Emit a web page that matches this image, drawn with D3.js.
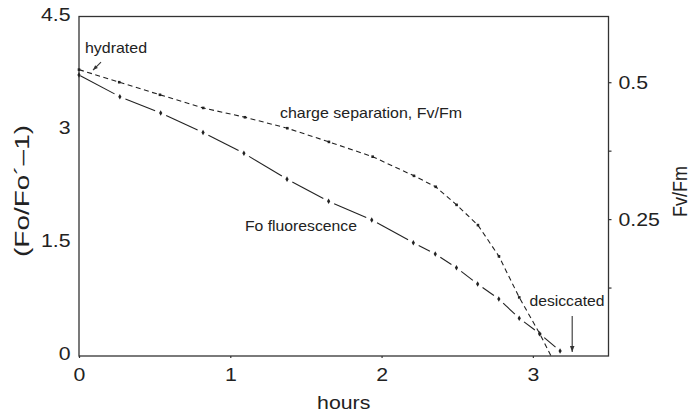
<!DOCTYPE html>
<html>
<head>
<meta charset="utf-8">
<script src="https://cdn.jsdelivr.net/npm/d3@7"></script>
<style>
  body { margin: 0; background: #fff; }
  svg { display: block; }
  text { font-family: "Liberation Sans", Arial, Helvetica, sans-serif; fill: #222; }
</style>
</head>
<body>
<svg id="chart" width="691" height="414"></svg>
<script>
// Sampling times (hours) during drying
const hours = [0, 0.27, 0.54, 0.82, 1.09, 1.375, 1.65, 1.935, 2.21, 2.355, 2.495, 2.635, 2.775, 2.91, 3.045, 3.18];
// Fo fluorescence, expressed as (Fo/Fo' - 1)
const foValues = [3.725, 3.437, 3.222, 2.963, 2.687, 2.344, 2.051, 1.803, 1.502, 1.352, 1.170, 0.954, 0.756, 0.500, 0.296, 0.066];
// Charge separation, Fv/Fm (last entry is where the curve reaches zero)
const fvHours = [0, 0.266, 0.535, 0.821, 1.097, 1.377, 1.652, 1.941, 2.214, 2.358, 2.496, 2.637, 2.776, 2.91, 3.047, 3.12];
const fvValues = [0.523, 0.500, 0.477, 0.453, 0.436, 0.416, 0.391, 0.364, 0.329, 0.309, 0.276, 0.239, 0.182, 0.107, 0.040, 0];

const xTicks = [0, 1, 2, 3];
const yTicks = [0, 1.5, 3, 4.5];
const yTickLabels = ["0", "1.5", "3", "4.5"];
const fvTicks = [0.125, 0.25, 0.375, 0.5];
const fvTickLabels = ["", "0.25", "", "0.5"];

const svg = d3.select("#chart");
const ink = "#222";
const frame = { left: 79, right: 608.5, top: 16.5, bottom: 356 };

const x = d3.scaleLinear().domain([0, 3.5]).range([frame.left, frame.right]);
const y = d3.scaleLinear().domain([0, 4.5]).range([frame.bottom, frame.top]);
const yFv = d3.scaleLinear().domain([0, 0.62]).range([frame.bottom, frame.top]);

// horizontally widen text to the figure's proportions
function widen(sel, k) {
  sel.each(function () {
    const w = this.getComputedTextLength();
    d3.select(this).attr("textLength", w * k).attr("lengthAdjust", "spacingAndGlyphs");
  });
}

// axes
const gx = svg.append("g").attr("transform", `translate(0,${frame.bottom})`)
  .call(d3.axisBottom(x).tickValues(xTicks).tickSize(2).tickPadding(10).tickFormat(d3.format("d")));
const gy = svg.append("g").attr("transform", `translate(${frame.left},0)`)
  .call(d3.axisLeft(y).tickValues(yTicks).tickSize(0).tickPadding(8.5).tickFormat((d, i) => yTickLabels[i]));
const gr = svg.append("g").attr("transform", `translate(${frame.right},0)`)
  .call(d3.axisRight(yFv).tickValues(fvTicks).tickSize(3).tickPadding(7).tickFormat((d, i) => fvTickLabels[i]));

[gx, gy, gr].forEach(g => {
  g.select(".domain").remove();
  g.selectAll("line").attr("stroke", "#333").attr("stroke-width", 1.2);
  g.selectAll("text").attr("font-size", 18.5).attr("fill", ink)
    .attr("font-family", "'Liberation Sans', Arial, sans-serif");
  widen(g.selectAll("text"), 1.15);
});
gy.selectAll("text").attr("dy", "0.2em");

// plot frame
svg.append("rect")
  .attr("x", frame.left).attr("y", frame.top)
  .attr("width", frame.right - frame.left).attr("height", frame.bottom - frame.top)
  .attr("fill", "none").attr("stroke", "#333").attr("stroke-width", 1.3);

// Fo fluorescence: long dashes broken around each sample dot
const foPts = hours.map((h, i) => [x(h), y(foValues[i])]);
const gap = 6;
const foSegs = d3.pairs(foPts).map(([a, b], i) => {
  const dx = b[0] - a[0], dy = b[1] - a[1], L = Math.hypot(dx, dy);
  const g0 = i === 0 ? 1.5 : gap;
  return [[a[0] + dx * g0 / L, a[1] + dy * g0 / L], [b[0] - dx * gap / L, b[1] - dy * gap / L]];
});
svg.append("g").selectAll("line").data(foSegs).join("line")
  .attr("x1", d => d[0][0]).attr("y1", d => d[0][1])
  .attr("x2", d => d[1][0]).attr("y2", d => d[1][1])
  .attr("stroke", ink).attr("stroke-width", 1.1);
svg.append("g").selectAll("path").data(foPts).join("path")
  .attr("transform", d => `translate(${d[0]},${d[1]})`)
  .attr("d", d3.symbol(d3.symbolDiamond, 9))
  .attr("fill", ink);

// charge separation, Fv/Fm: short dashes
const fvLine = d3.line().x((d, i) => x(fvHours[i])).y(d => yFv(d));
svg.append("path").datum(fvValues)
  .attr("d", fvLine)
  .attr("fill", "none").attr("stroke", ink).attr("stroke-width", 1.1)
  .attr("stroke-dasharray", "5,3.5");
svg.append("g").selectAll("rect").data(fvValues.slice(0, -1)).join("rect")
  .attr("x", (d, i) => x(fvHours[i]) - 1.3).attr("y", d => yFv(d) - 1.3)
  .attr("width", 2.6).attr("height", 2.6).attr("fill", ink);

// annotations
function label(txt, px, py, len) {
  svg.append("text").attr("x", px).attr("y", py)
    .attr("font-size", 14.5).attr("fill", ink)
    .attr("textLength", len).attr("lengthAdjust", "spacingAndGlyphs")
    .text(txt);
}
label("hydrated", 85, 53, 62);
label("charge separation, Fv/Fm", 280, 118, 182);
label("Fo fluorescence", 245, 231, 112);
label("desiccated", 529.5, 306, 75);

function arrow(x1, y1, x2, y2, head) {
  svg.append("line").attr("x1", x1).attr("y1", y1).attr("x2", x2).attr("y2", y2)
    .attr("stroke", "#333").attr("stroke-width", 1.1);
  const ang = Math.atan2(y2 - y1, x2 - x1);
  const p = [[0, 0], [-head, -head * 0.38], [-head, head * 0.38]]
    .map(([u, v]) => [x2 + u * Math.cos(ang) - v * Math.sin(ang), y2 + u * Math.sin(ang) + v * Math.cos(ang)]);
  svg.append("path").attr("d", "M" + p.join("L") + "Z").attr("fill", "#333");
}
// hydrated arrow points at the starting measurement
const hx = x(fvHours[0]) + 14, hy = yFv(fvValues[0]) + 0.5;
arrow(hx + 8, hy - 8, hx, hy, 5);
// desiccated arrow points down to the end of drying
const dHour = 3.26;
arrow(x(dHour), 316, x(dHour), frame.bottom - 4, 6);

// axis titles
svg.append("text")
  .attr("x", (frame.left + frame.right) / 2).attr("y", 409)
  .attr("text-anchor", "middle").attr("font-size", 18.5).attr("fill", ink)
  .text("hours").call(widen, 1.15);

svg.append("text")
  .attr("transform", "translate(28.5,191) scale(1.1,1) rotate(-90)")
  .attr("text-anchor", "middle").attr("font-size", 18.5).attr("fill", ink)
  .attr("textLength", 132).attr("lengthAdjust", "spacingAndGlyphs")
  .text("(Fo/Fo\u00B4\u20131)");

svg.append("text")
  .attr("transform", "translate(686.5,191.5) scale(1.08,1) rotate(-90)")
  .attr("text-anchor", "middle").attr("font-size", 18).attr("fill", ink)
  .text("Fv/Fm");
</script>
</body>
</html>
